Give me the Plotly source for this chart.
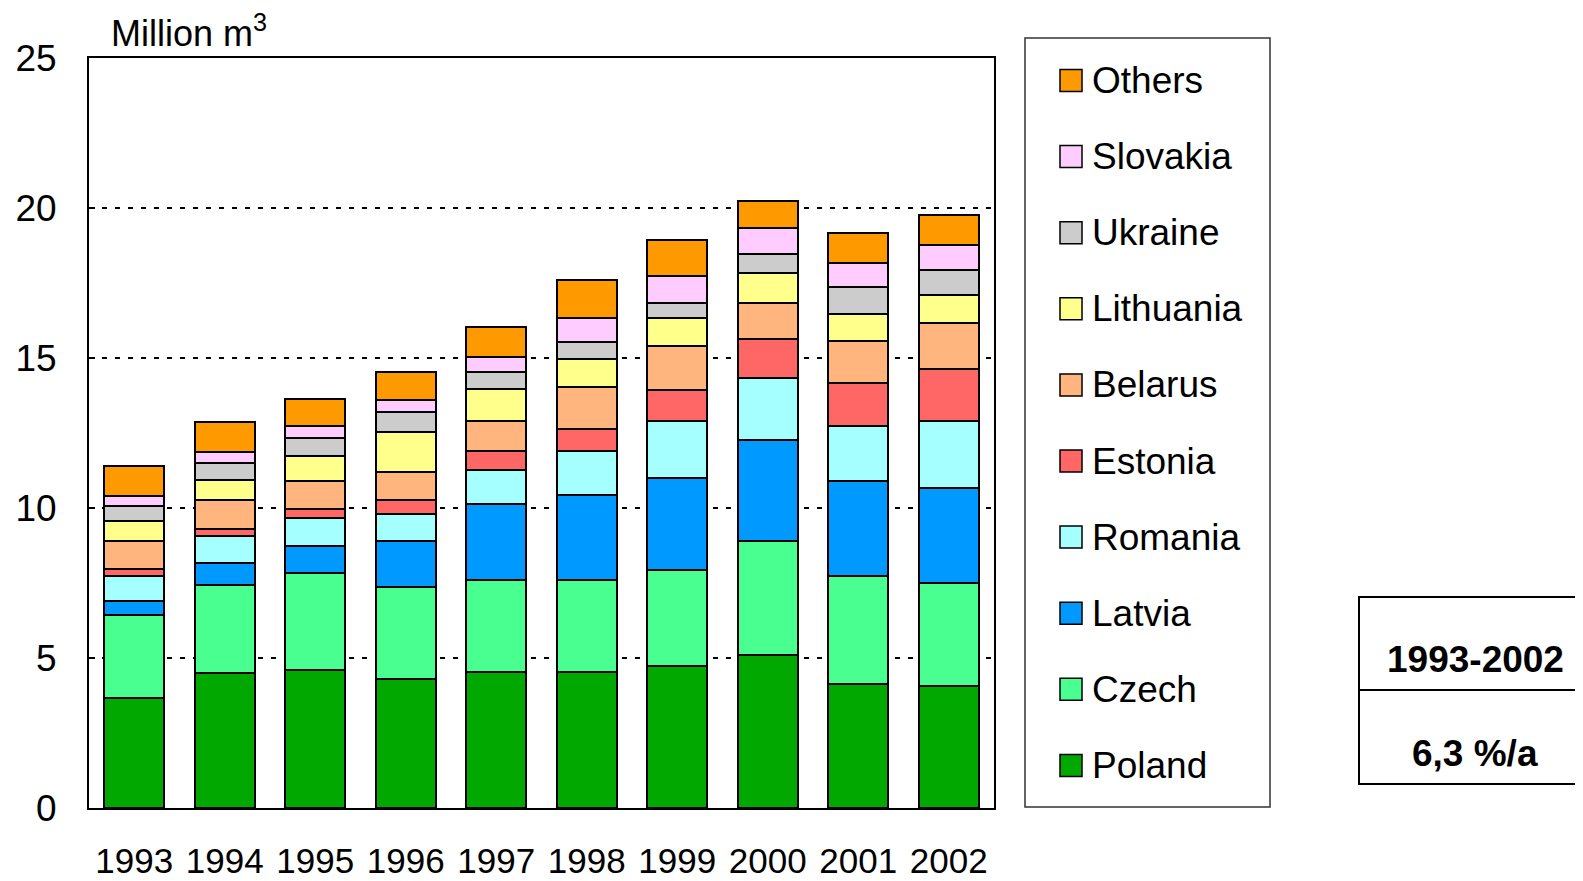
import plotly.graph_objects as go

years = ["1993", "1994", "1995", "1996", "1997", "1998", "1999", "2000", "2001", "2002"]

poland = [3.68, 4.50, 4.60, 4.30, 4.52, 4.52, 4.74, 5.11, 4.12, 4.06]
czech = [2.76, 2.94, 3.22, 3.07, 3.07, 3.07, 3.21, 3.79, 3.63, 3.45]
latvia = [0.45, 0.74, 0.91, 1.53, 2.54, 2.83, 3.05, 3.37, 3.16, 3.16]
romania = [0.85, 0.88, 0.94, 0.90, 1.15, 1.47, 1.89, 2.07, 1.82, 2.22]
estonia = [0.22, 0.23, 0.29, 0.48, 0.61, 0.75, 1.05, 1.28, 1.44, 1.75]
belarus = [0.93, 0.98, 0.93, 0.91, 1.02, 1.38, 1.45, 1.22, 1.40, 1.53]
lithuania = [0.69, 0.66, 0.84, 1.36, 1.06, 0.94, 0.95, 1.01, 0.90, 0.94]
ukraine = [0.49, 0.57, 0.59, 0.64, 0.55, 0.56, 0.50, 0.61, 0.89, 0.84]
slovakia = [0.33, 0.37, 0.41, 0.40, 0.51, 0.83, 0.89, 0.86, 0.81, 0.83]
others = [1.01, 1.01, 0.91, 0.93, 0.99, 1.24, 1.22, 0.92, 1.01, 1.00]

names = ["Poland", "Czech", "Latvia", "Romania", "Estonia", "Belarus",
         "Lithuania", "Ukraine", "Slovakia", "Others"]
series = [poland, czech, latvia, romania, estonia, belarus,
          lithuania, ukraine, slovakia, others]
colors = ["#00A800", "#48FF90", "#0099FF", "#A6FFFF", "#FF6666", "#FFB57D",
          "#FFFF8C", "#CCCCCC", "#FFCCFF", "#FF9900"]

period_label = "1993-2002"
growth_label = "6,3 %/a"

FONT = "Liberation Sans, Arial, sans-serif"

# plot area in page pixels (the html body adds an 8px margin)
W_FIG, H_FIG = 1583, 881
BODY = 8
L, R, T, B = 89, 994, 58, 808


def px(x):
    return (x - L) / (R - L)


def py(y):
    return (B - y) / (B - T)


fig = go.Figure()
for name, vals, col in zip(names, series, colors):
    fig.add_trace(go.Bar(x=years, y=vals, name=name,
                         marker=dict(color=col, line=dict(color="black", width=2)),
                         showlegend=False))

shapes = []
annotations = []

# legend box
shapes.append(dict(type="rect", xref="paper", yref="paper",
                   x0=px(1025), x1=px(1270), y0=py(807), y1=py(38),
                   line=dict(color="#333333", width=1.5)))
for i, (name, col) in enumerate(zip(names[::-1], colors[::-1])):
    cy = 80.5 + i * 76.1
    shapes.append(dict(type="rect", xref="paper", yref="paper",
                       x0=px(1060), x1=px(1082), y0=py(cy + 11), y1=py(cy - 11),
                       fillcolor=col, line=dict(color="black", width=1.5)))
    annotations.append(dict(x=px(1090), y=py(cy), xref="paper", yref="paper",
                            text=name, showarrow=False, xanchor="left", yanchor="middle",
                            font=dict(size=37, color="black", family=FONT)))

# growth table
shapes.append(dict(type="rect", xref="paper", yref="paper",
                   x0=px(1359), x1=px(1600), y0=py(784), y1=py(597),
                   line=dict(color="black", width=2)))
shapes.append(dict(type="line", xref="paper", yref="paper",
                   x0=px(1359), x1=px(1600), y0=py(690), y1=py(690),
                   line=dict(color="black", width=2)))
annotations.append(dict(x=px(1475), y=py(659), xref="paper", yref="paper",
                        text="<b>" + period_label + "</b>", showarrow=False,
                        xanchor="center", yanchor="middle",
                        font=dict(size=37, color="black", family=FONT)))
annotations.append(dict(x=px(1475), y=py(753), xref="paper", yref="paper",
                        text="<b>" + growth_label + "</b>", showarrow=False,
                        xanchor="center", yanchor="middle",
                        font=dict(size=37, color="black", family=FONT)))

# axis unit
annotations.append(dict(x=px(109), y=py(31), xref="paper", yref="paper",
                        text="Million m<sup>3</sup>", showarrow=False,
                        xanchor="left", yanchor="middle",
                        font=dict(size=36, color="black", family=FONT)))

fig.update_layout(
    barmode="stack",
    bargap=0.34,
    width=W_FIG, height=H_FIG,
    margin=dict(l=L - BODY, r=W_FIG - (R - BODY), t=T - BODY, b=H_FIG - (B - BODY)),
    plot_bgcolor="white", paper_bgcolor="white",
    font=dict(family=FONT, size=36, color="black"),
    shapes=shapes,
    annotations=annotations,
)
fig.update_xaxes(showline=True, linecolor="black", linewidth=2, mirror=True,
                 ticks="", tickfont=dict(size=35), ticklabelstandoff=21,
                 automargin=False)
fig.update_yaxes(range=[0, 25], tickvals=[0, 5, 10, 15, 20, 25],
                 showline=True, linecolor="black", linewidth=2, mirror=True,
                 showgrid=True, gridcolor="black", gridwidth=2, griddash="5px,8px",
                 ticks="inside", ticklen=6, tickwidth=2, tickcolor="black",
                 ticklabelstandoff=23, tickfont=dict(size=37), zeroline=False,
                 automargin=False)

fig.write_html("out.html")
